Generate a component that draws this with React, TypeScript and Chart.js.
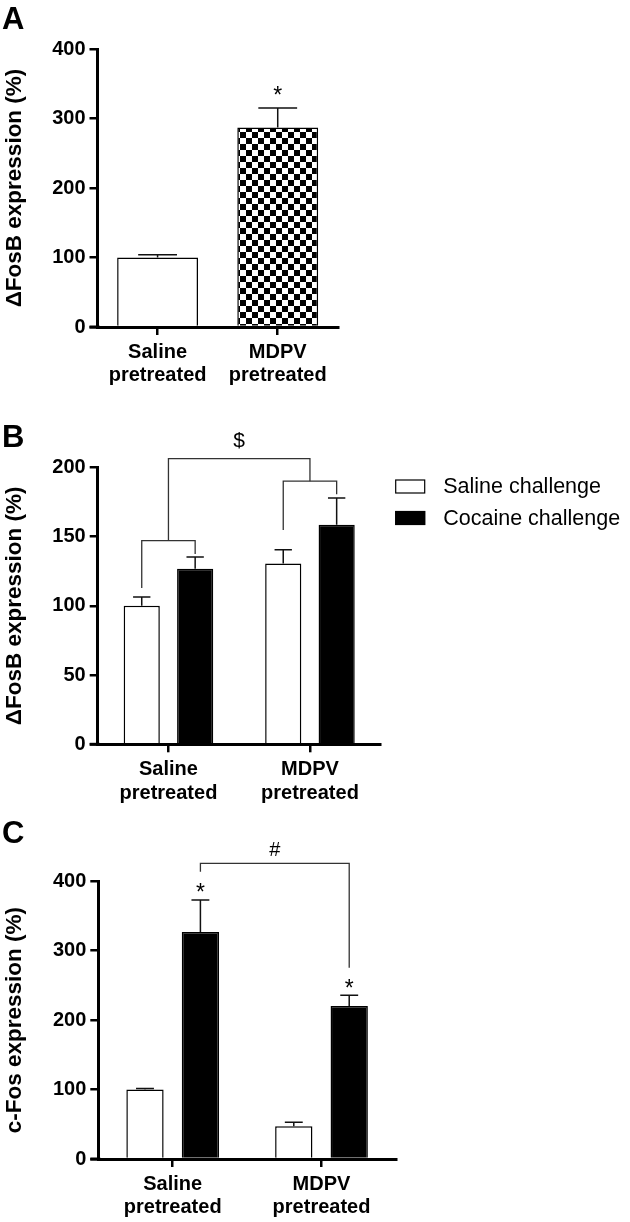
import React, { useEffect, useRef } from "react";
import { Chart, registerables } from "chart.js";

Chart.register(...registerables);

const FONT = '"Liberation Sans", Arial, Helvetica, sans-serif';

// ---------------- data ----------------
const groupLabels = [["Saline", "pretreated"], ["MDPV", "pretreated"]];
const seriesNames = ["Saline challenge", "Cocaine challenge"];

// Panel A – ΔFosB after pretreatment
const fosbA = [100, 287];
const fosbAErr = [4, 28];
const starA = [null, 341];
const yMaxA = 400;
const yStepA = 100;
const yTitleA = "ΔFosB expression (%)";

// Panel B – ΔFosB after challenge
const fosbSaline = [100, 130.5];
const fosbSalineErr = [6.4, 10];
const fosbCocaine = [126.8, 158.6];
const fosbCocaineErr = [8.5, 19.3];
const yMaxB = 200;
const yStepB = 50;
const yTitleB = "ΔFosB expression (%)";
// brackets (data units): left bar [dataset, group], right bar, foot heights, top
const bracketB1 = { left: [0, 0], right: [1, 0], feet: [112.9, 137.4], top: 147 };
const bracketB2 = { left: [0, 1], right: [1, 1], feet: [154.7, 180.5], top: 190 };
const bracketB3 = { feet: [147, 190], top: 206.2, label: "$", labelY: 218.5 };

// Panel C – c-Fos after challenge
const cfosSaline = [100, 47];
const cfosSalineErr = [1.5, 6];
const cfosCocaine = [327, 220.5];
const cfosCocaineErr = [46, 15.5];
const starC = [392, 254];
const yMaxC = 400;
const yStepC = 100;
const yTitleC = "c-Fos expression (%)";
const bracketC = { left: [1, 0], right: [1, 1], feet: [413.8, 275.5], top: 425.9, label: "#", labelY: 445 };

// ---------------- helpers ----------------
const W = 630;
const H = 1222;

function makeChecker(): CanvasPattern | string {
  const c = document.createElement("canvas");
  c.width = 12;
  c.height = 12;
  const g = c.getContext("2d");
  if (!g) return "#888";
  g.fillStyle = "#fff";
  g.fillRect(0, 0, 12, 12);
  g.fillStyle = "#000";
  g.fillRect(0, 0, 6, 6);
  g.fillRect(6, 6, 6, 6);
  const p = g.createPattern(c, "repeat");
  return p || "#888";
}

function barEl(chart: any, ds: number, idx: number) {
  return chart.getDatasetMeta(ds).data[idx];
}

function drawBracket(ctx: CanvasRenderingContext2D, x1: number, x2: number, f1: number, f2: number, top: number) {
  ctx.save();
  ctx.strokeStyle = "#333";
  ctx.lineWidth = 1.3;
  ctx.beginPath();
  ctx.moveTo(x1, f1);
  ctx.lineTo(x1, top);
  ctx.lineTo(x2, top);
  ctx.lineTo(x2, f2);
  ctx.stroke();
  ctx.restore();
}

function drawStar(ctx: CanvasRenderingContext2D, x: number, y: number) {
  ctx.save();
  ctx.fillStyle = "#000";
  ctx.font = `23px ${FONT}`;
  ctx.textAlign = "center";
  ctx.textBaseline = "alphabetic";
  ctx.fillText("*", x, y + 0.57 * 23);
  ctx.restore();
}

function drawSymbol(ctx: CanvasRenderingContext2D, s: string, x: number, y: number, size: number) {
  ctx.save();
  ctx.fillStyle = "#000";
  ctx.font = `${size}px ${FONT}`;
  ctx.textAlign = "center";
  ctx.textBaseline = "middle";
  ctx.fillText(s, x, y);
  ctx.restore();
}

const errorBarPlugin = {
  id: "errbars",
  afterDatasetsDraw(chart: any) {
    const ctx = chart.ctx;
    const ys = chart.scales.y;
    chart.data.datasets.forEach((ds: any, i: number) => {
      const meta = chart.getDatasetMeta(i);
      meta.data.forEach((el: any, j: number) => {
        const v = ds.data[j];
        const e = ds.errors[j];
        const yTop = ys.getPixelForValue(v + e);
        const half = el.width * 0.24;
        ctx.save();
        ctx.strokeStyle = "#111";
        ctx.lineWidth = 1.5;
        ctx.beginPath();
        ctx.moveTo(el.x, el.y);
        ctx.lineTo(el.x, yTop);
        ctx.moveTo(el.x - half, yTop);
        ctx.lineTo(el.x + half, yTop);
        ctx.stroke();
        ctx.restore();
      });
    });
  },
};

type PanelCfg = {
  letter: string;
  letterY: number;
  left: number;
  right: number;
  top: number;
  bottom: number;
  yMax: number;
  yStep: number;
  yTitle: string;
  datasets: any[];
  extra: (chart: any, ctx: CanvasRenderingContext2D) => void;
};

function makeChart(canvas: HTMLCanvasElement, cfg: PanelCfg) {
  const annot = {
    id: "annot",
    afterDraw(chart: any) {
      const ctx = chart.ctx as CanvasRenderingContext2D;
      const a = chart.chartArea;
      // axis extension to the left of the y axis
      ctx.save();
      ctx.strokeStyle = "#000";
      ctx.lineWidth = 3;
      ctx.beginPath();
      ctx.moveTo(a.left - 8, a.bottom);
      ctx.lineTo(a.left + 2, a.bottom);
      ctx.stroke();
      ctx.restore();
      // panel letter
      ctx.save();
      ctx.fillStyle = "#000";
      ctx.font = `bold 31px ${FONT}`;
      ctx.textAlign = "left";
      ctx.textBaseline = "alphabetic";
      ctx.fillText(cfg.letter, 2, cfg.letterY);
      ctx.restore();
      cfg.extra(chart, ctx);
    },
  };

  return new Chart(canvas, {
    type: "bar",
    data: { labels: groupLabels as any, datasets: cfg.datasets },
    options: {
      responsive: false,
      animation: false,
      devicePixelRatio: 1,
      events: [],
      layout: { padding: { left: 0, top: cfg.top, right: W - cfg.right, bottom: 0 } },
      plugins: { legend: { display: false }, tooltip: { enabled: false } },
      scales: {
        x: {
          offset: true,
          afterFit: (s: any) => {
            s.height = H - cfg.bottom;
          },
          grid: {
            display: true,
            offset: false,
            drawOnChartArea: false,
            drawTicks: true,
            tickLength: 8,
            lineWidth: 2.5,
            color: "#000",
          },
          border: { display: true, width: 3, color: "#000" },
          ticks: {
            color: "#000",
            padding: 5.5,
            maxRotation: 0,
            font: { family: FONT, size: 20, weight: "bold", lineHeight: 1.18 },
          },
        },
        y: {
          min: 0,
          max: cfg.yMax,
          afterFit: (s: any) => {
            s.width = cfg.left;
          },
          grid: {
            display: true,
            drawOnChartArea: false,
            drawTicks: true,
            tickLength: 8,
            lineWidth: 2.5,
            color: "#000",
          },
          border: { display: true, width: 3, color: "#000" },
          ticks: {
            stepSize: cfg.yStep,
            color: "#000",
            padding: 4,
            font: { family: FONT, size: 20, weight: "bold" },
          },
          title: {
            display: true,
            text: cfg.yTitle,
            color: "#000",
            font: { family: FONT, size: 22.5, weight: "bold", lineHeight: 1.2 },
            padding: { top: 1.5, bottom: 0 },
          },
        },
      },
    } as any,
    plugins: [errorBarPlugin, annot],
  });
}

export default function App() {
  const refA = useRef<HTMLCanvasElement>(null);
  const refB = useRef<HTMLCanvasElement>(null);
  const refC = useRef<HTMLCanvasElement>(null);

  useEffect(() => {
    Chart.defaults.font.family = FONT;
    Chart.defaults.color = "#000";
    const checker = makeChecker();
    const barStyle = { borderColor: "#000", borderWidth: 1.5, borderSkipped: "start" };

    const cfgA: PanelCfg = {
      letter: "A",
      letterY: 28.5,
      left: 97.5,
      right: 337.8,
      top: 49,
      bottom: 327,
      yMax: yMaxA,
      yStep: yStepA,
      yTitle: yTitleA,
      datasets: [
        {
          label: "ΔFosB",
          data: fosbA,
          errors: fosbAErr,
          backgroundColor: ["#fff", checker],
          categoryPercentage: 1,
          barPercentage: 0.673,
          ...barStyle,
        },
      ],
      extra: (chart, ctx) => {
        const ys = chart.scales.y;
        starA.forEach((v, j) => {
          if (v == null) return;
          drawStar(ctx, barEl(chart, 0, j).x, ys.getPixelForValue(v));
        });
      },
    };

    const cfgB: PanelCfg = {
      letter: "B",
      letterY: 447,
      left: 97.7,
      right: 380.7,
      top: 467.3,
      bottom: 744.3,
      yMax: yMaxB,
      yStep: yStepB,
      yTitle: yTitleB,
      datasets: [
        {
          label: seriesNames[0],
          data: fosbSaline,
          errors: fosbSalineErr,
          backgroundColor: "#fff",
          categoryPercentage: 0.755,
          barPercentage: 0.677,
          ...barStyle,
        },
        {
          label: seriesNames[1],
          data: fosbCocaine,
          errors: fosbCocaineErr,
          backgroundColor: "#000",
          categoryPercentage: 0.755,
          barPercentage: 0.677,
          ...barStyle,
        },
      ],
      extra: (chart, ctx) => {
        const ys = chart.scales.y;
        const px = (v: number) => ys.getPixelForValue(v);
        const b1l = barEl(chart, bracketB1.left[0], bracketB1.left[1]).x;
        const b1r = barEl(chart, bracketB1.right[0], bracketB1.right[1]).x;
        const b2l = barEl(chart, bracketB2.left[0], bracketB2.left[1]).x;
        const b2r = barEl(chart, bracketB2.right[0], bracketB2.right[1]).x;
        drawBracket(ctx, b1l, b1r, px(bracketB1.feet[0]), px(bracketB1.feet[1]), px(bracketB1.top));
        drawBracket(ctx, b2l, b2r, px(bracketB2.feet[0]), px(bracketB2.feet[1]), px(bracketB2.top));
        const m1 = (b1l + b1r) / 2;
        const m2 = (b2l + b2r) / 2;
        drawBracket(ctx, m1, m2, px(bracketB3.feet[0]), px(bracketB3.feet[1]), px(bracketB3.top));
        drawSymbol(ctx, bracketB3.label, (m1 + m2) / 2, px(bracketB3.labelY), 21);
        // legend
        const a = chart.chartArea;
        const lx = a.right + 14.5;
        const rows = [486.5, 518];
        chart.data.datasets.forEach((ds: any, i: number) => {
          const cy = rows[i];
          ctx.save();
          ctx.fillStyle = ds.backgroundColor;
          ctx.fillRect(lx, cy - 7, 30, 14);
          ctx.strokeStyle = "#000";
          ctx.lineWidth = 1.2;
          ctx.strokeRect(lx + 0.5, cy - 6.5, 29, 13);
          ctx.fillStyle = "#000";
          ctx.font = `21.5px ${FONT}`;
          ctx.textAlign = "left";
          ctx.textBaseline = "middle";
          ctx.fillText(ds.label, lx + 48, cy + 1);
          ctx.restore();
        });
      },
    };

    const cfgC: PanelCfg = {
      letter: "C",
      letterY: 843,
      left: 98.3,
      right: 395.9,
      top: 881.3,
      bottom: 1159,
      yMax: yMaxC,
      yStep: yStepC,
      yTitle: yTitleC,
      datasets: [
        {
          label: seriesNames[0],
          data: cfosSaline,
          errors: cfosSalineErr,
          backgroundColor: "#fff",
          categoryPercentage: 0.745,
          barPercentage: 0.673,
          ...barStyle,
        },
        {
          label: seriesNames[1],
          data: cfosCocaine,
          errors: cfosCocaineErr,
          backgroundColor: "#000",
          categoryPercentage: 0.745,
          barPercentage: 0.673,
          ...barStyle,
        },
      ],
      extra: (chart, ctx) => {
        const ys = chart.scales.y;
        const px = (v: number) => ys.getPixelForValue(v);
        starC.forEach((v, j) => {
          drawStar(ctx, barEl(chart, 1, j).x, px(v));
        });
        const l = barEl(chart, bracketC.left[0], bracketC.left[1]).x;
        const r = barEl(chart, bracketC.right[0], bracketC.right[1]).x;
        drawBracket(ctx, l, r, px(bracketC.feet[0]), px(bracketC.feet[1]), px(bracketC.top));
        drawSymbol(ctx, bracketC.label, (l + r) / 2, px(bracketC.labelY), 20);
      },
    };

    const charts: Chart[] = [];
    if (refA.current) charts.push(makeChart(refA.current, cfgA));
    if (refB.current) charts.push(makeChart(refB.current, cfgB));
    if (refC.current) charts.push(makeChart(refC.current, cfgC));
    return () => charts.forEach((c) => c.destroy());
  }, []);

  const cs: React.CSSProperties = { position: "absolute", left: 0, top: 0, width: W, height: H };
  return (
    <div style={{ position: "absolute", left: 0, top: 0, width: W, height: H, background: "#fff" }}>
      <canvas ref={refA} width={W} height={H} style={cs} />
      <canvas ref={refB} width={W} height={H} style={cs} />
      <canvas ref={refC} width={W} height={H} style={cs} />
    </div>
  );
}
